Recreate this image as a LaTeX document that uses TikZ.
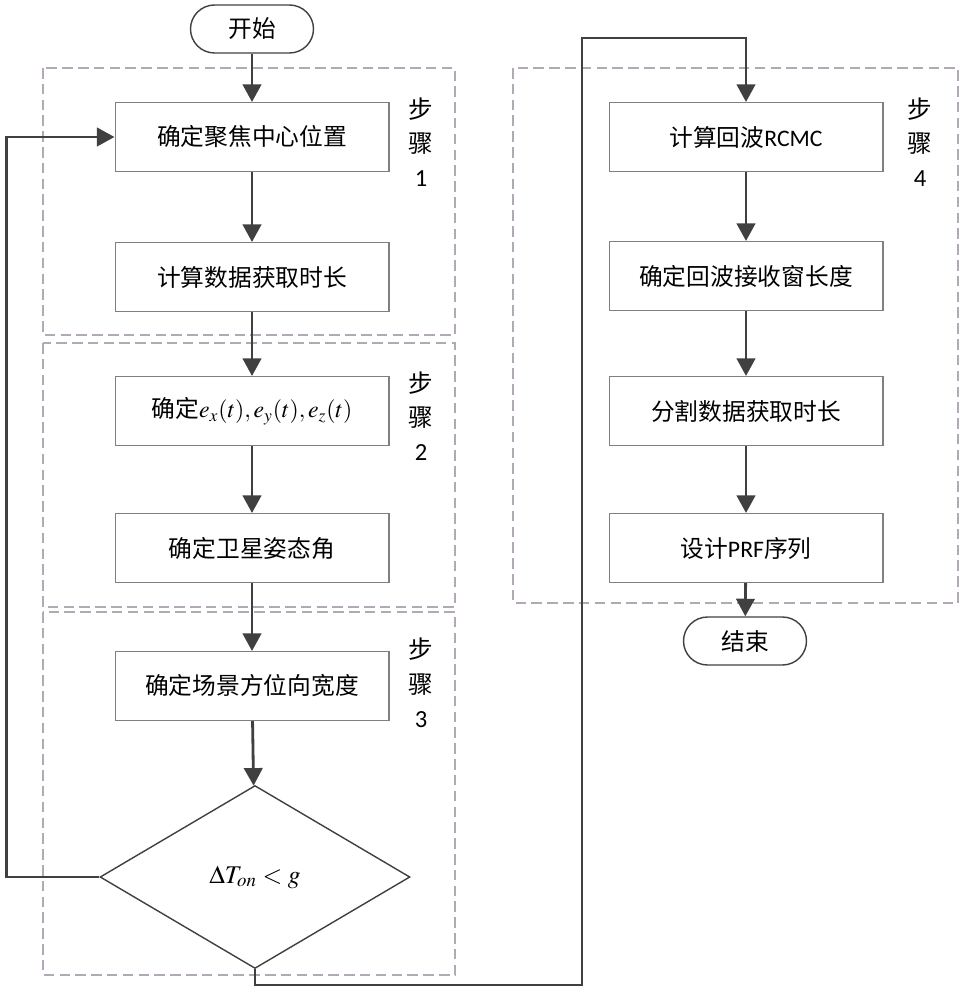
\documentclass[tikz,border=0pt]{standalone}
\usepackage{mathptmx}
\usepackage[no-math]{fontspec}
\setmainfont{Carlito}
\newfontfamily\cjk{Noto Sans CJK SC}
\usepackage{tikz}
\usetikzlibrary{shapes.geometric,arrows.meta,positioning,calc}
\definecolor{linegray}{RGB}{64,64,64}
\definecolor{boxgray}{RGB}{128,128,128}
\definecolor{stepgray}{RGB}{178,168,182}

\begin{document}
\begin{tikzpicture}[
    x=0.02cm, y=-0.02cm,
    box/.style={rectangle, draw=boxgray, line width=0.6pt, minimum width=5.48cm, minimum height=1.38cm, align=center, font=\fontsize{13.5}{16}\selectfont},
    term/.style={rectangle, rounded corners=0.48cm, draw=linegray, line width=0.8pt, minimum width=2.46cm, minimum height=0.96cm, font=\fontsize{13.5}{16}\selectfont},
    decide/.style={diamond, draw=linegray, line width=0.8pt, minimum width=6.2cm, minimum height=3.66cm, inner sep=0pt, font=\fontsize{14.5}{16}\selectfont},
    stepframe/.style={draw=stepgray, dashed, dash pattern=on 6pt off 3pt, line width=0.8pt},
    steplabel/.style={align=center, font=\fontsize{14}{19.5}\selectfont},
    arrow/.style={-{Triangle[width=10.5pt,length=10pt]}, draw=linegray, line width=1.6pt}
]
\useasboundingbox (0,0) rectangle (962,1000);

% Dashed step frames
\draw[stepframe] (43,68) rectangle (455,335);
\draw[stepframe] (43,343) rectangle (455,607);
\draw[stepframe] (43,612) rectangle (455,975);
\draw[stepframe] (513,68) rectangle (958,603);

% Left column
\node[term] (start) at (252,29) {\cjk 开始};
\node[box] (focus) at (252,137) {\cjk 确定聚焦中心位置};
\node[box] (duration) at (252,277) {\cjk 计算数据获取时长};
\node[box] (evec) at (252,411) {{\cjk 确定}$e_x(t),e_y(t),e_z(t)$};
\node[box] (attitude) at (252,548) {\cjk 确定卫星姿态角};
\node[box] (width) at (252,686) {\cjk 确定场景方位向宽度};
\node[decide] (check) at (255,877) {$\Delta T_{on} < g$};

% Right column
\node[box] (rcmc) at (746,137) {{\cjk 计算回波}RCMC};
\node[box] (window) at (746,276) {\cjk 确定回波接收窗长度};
\node[box] (split) at (746,411) {\cjk 分割数据获取时长};
\node[box] (prf) at (746,548) {{\cjk 设计}PRF{\cjk 序列}};
\node[term] (stop) at (745,641) {\cjk 结束};

% Step labels
\node[steplabel] (s1) at (421,142) {{\cjk 步}\\{\cjk 骤}\\1};
\node[steplabel] (s2) at (421,416) {{\cjk 步}\\{\cjk 骤}\\2};
\node[steplabel] (s3) at (421,683) {{\cjk 步}\\{\cjk 骤}\\3};
\node[steplabel] (s4) at (920,142) {{\cjk 步}\\{\cjk 骤}\\4};

% Vertical arrows
\draw[arrow] (start) -- (focus);
\draw[arrow] (focus) -- (duration);
\draw[arrow] (duration) -- (evec);
\draw[arrow] (evec) -- (attitude);
\draw[arrow] (attitude) -- (width);
\draw[arrow] (width) -- (check);
\draw[arrow] (rcmc) -- (window);
\draw[arrow] (window) -- (split);
\draw[arrow] (split) -- (prf);
\draw[arrow] (prf) -- (stop);

% Loop back to the focus box
\draw[arrow] (check.west) -- ++(-93,0) |- (focus.west);

% Jump over to the right column
\coordinate (jumpA) at (582,985);
\coordinate (jumpB) at (582,38);
\draw[arrow] (check.south) |- (jumpA) -- (jumpB) -| (rcmc.north);

\end{tikzpicture}
\end{document}
